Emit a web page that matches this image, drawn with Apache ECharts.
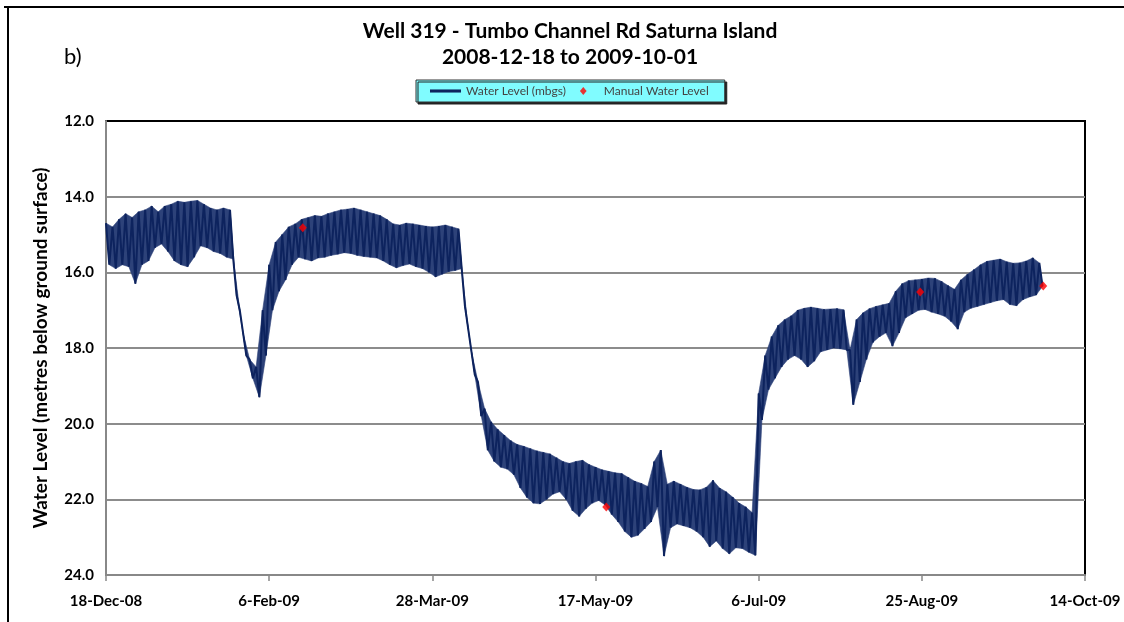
<!DOCTYPE html>
<html>
<head>
<meta charset="utf-8">
<script src="https://cdn.jsdelivr.net/npm/echarts@6/dist/echarts.min.js"></script>
<style>
  html, body { margin: 0; padding: 0; background: #fff; }
  #chart { width: 1124px; height: 622px; }
</style>
</head>
<body>
<div id="chart"></div>
<script>
// days since 18-Dec-2008, sampled every 2 days
const levelDays = [
  0, 2, 4, 6, 8, 10, 12, 14, 16, 18, 20, 22, 24, 26, 28, 30, 32, 34, 36, 38,
  40, 42, 44, 46, 48, 50, 52, 54, 56, 58, 60, 62, 64, 66, 68, 70, 72, 74, 76, 78,
  80, 82, 84, 86, 88, 90, 92, 94, 96, 98, 100, 102, 104, 106, 108, 110, 112, 114, 116, 118,
  120, 122, 124, 126, 128, 130, 132, 134, 136, 138, 140, 142, 144, 146, 148, 150, 152, 154, 156, 158,
  160, 162, 164, 166, 168, 170, 172, 174, 176, 178, 180, 182, 184, 186, 188, 190, 192, 194, 196, 198,
  200, 202, 204, 206, 208, 210, 212, 214, 216, 218, 220, 222, 224, 226, 228, 230, 232, 234, 236, 238,
  240, 242, 244, 246, 248, 250, 252, 254, 256, 258, 260, 262, 264, 266, 268, 270, 272, 274, 276, 278,
  280, 282, 284, 286
];
// shallow end of each daily swing (mbgs)
const levelHigh = [
  14.7, 14.8, 14.6, 14.45, 14.55, 14.4, 14.35, 14.25, 14.4, 14.25, 14.2, 14.12, 14.15, 14.12, 14.1, 14.2, 14.3, 14.35, 14.3, 14.35,
  16.6, 17.6, 18.3, 18.5, 17.0, 15.8, 15.2, 15.0, 14.8, 14.72, 14.6, 14.55, 14.5, 14.52, 14.45, 14.4, 14.35, 14.33, 14.3, 14.35,
  14.4, 14.45, 14.5, 14.6, 14.72, 14.75, 14.7, 14.72, 14.75, 14.78, 14.8, 14.78, 14.75, 14.8, 14.85, 16.9, 18.1, 18.9, 19.6, 19.95,
  20.15, 20.3, 20.45, 20.55, 20.6, 20.66, 20.72, 20.76, 20.8, 20.9, 21.0, 21.05, 21.0, 20.97, 21.08, 21.15, 21.22, 21.26, 21.3, 21.32,
  21.42, 21.52, 21.58, 21.66, 21.0, 20.7, 21.6, 21.52, 21.6, 21.68, 21.74, 21.75, 21.68, 21.5, 21.7, 21.8, 21.94, 22.1, 22.2, 22.35,
  19.2, 18.2, 17.7, 17.4, 17.25, 17.15, 17.0, 16.95, 16.92, 16.95, 16.98, 16.97, 16.96, 16.99, 18.05, 17.25, 17.07, 16.96, 16.9, 16.86,
  16.82, 16.5, 16.3, 16.22, 16.2, 16.18, 16.15, 16.16, 16.24, 16.35, 16.45, 16.2, 16.05, 15.93, 15.8, 15.71, 15.68, 15.65, 15.72, 15.76,
  15.75, 15.7, 15.62, 15.75
];
// deep end of each daily swing (mbgs)
const levelLow = [
  15.8, 15.9, 15.8, 15.85, 16.3, 15.8, 15.7, 15.35, 15.25, 15.45, 15.7, 15.8, 15.85, 15.6, 15.3, 15.35, 15.45, 15.5, 15.6, 15.65,
  17.0, 18.2, 18.8, 19.3, 18.2, 17.0, 16.5, 16.2, 15.8, 15.6, 15.65, 15.7, 15.62, 15.6, 15.55, 15.52, 15.48, 15.5, 15.55, 15.58,
  15.6, 15.62, 15.7, 15.8, 15.88, 15.82, 15.78, 15.85, 15.9, 16.0, 16.12, 16.05, 15.98, 15.95, 15.9, 17.5, 18.7, 19.8, 20.7, 21.0,
  21.15, 21.2, 21.35, 21.7, 21.95, 22.1, 22.12, 22.0, 21.86, 21.8, 22.0, 22.3, 22.45, 22.25, 22.1, 22.03, 22.15, 22.4, 22.6, 22.85,
  23.0, 22.95, 22.78, 22.6, 22.2, 23.5, 22.75, 22.65, 22.7, 22.75, 22.85, 23.0, 23.25, 23.1, 23.3, 23.44, 23.28, 23.3, 23.4, 23.48,
  19.9, 19.1, 18.8, 18.5, 18.3, 18.2, 18.3, 18.5, 18.35, 18.1, 18.05, 18.0, 18.02, 18.05, 19.5, 18.9, 18.3, 17.85, 17.7, 17.6,
  17.95, 17.6, 17.2, 17.1, 17.0, 16.98, 17.05, 17.1, 17.16, 17.3, 17.5, 17.05, 16.95, 16.9, 16.85, 16.8, 16.75, 16.72, 16.85, 16.88,
  16.72, 16.65, 16.6, 16.37
];
const manualDays = [60.3, 153.3, 249.5, 287.2];
const manualLevel = [14.82, 22.2, 16.52, 16.36];
const tickDays = [0, 50, 100, 150, 200, 250, 300];

const months = ['Jan', 'Feb', 'Mar', 'Apr', 'May', 'Jun', 'Jul', 'Aug', 'Sep', 'Oct', 'Nov', 'Dec'];
function dayLabel(d) {
  const dt = new Date(Date.UTC(2008, 11, 18 + Math.round(d)));
  return dt.getUTCDate() + '-' + months[dt.getUTCMonth()] + '-' + String(dt.getUTCFullYear()).slice(2);
}

// daily swing: shallow reading then deep reading one day later
const swing = [];
levelDays.forEach((d, i) => {
  swing.push([d, levelHigh[i]]);
  swing.push([d + 1, levelLow[i]]);
});

const chart = echarts.init(document.getElementById('chart'));
chart.setOption({
  animation: false,
  textStyle: { fontFamily: 'Lato' },
  graphic: [
    { type: 'line', shape: { x1: 4, y1: 7, x2: 1124, y2: 7 }, style: { stroke: '#000', lineWidth: 2 } },
    { type: 'line', shape: { x1: 8, y1: 7, x2: 8, y2: 622 }, style: { stroke: '#000', lineWidth: 2 } },
    {
      type: 'text', x: 570, y: 18,
      style: {
        text: 'Well 319 - Tumbo Channel Rd Saturna Island\n2008-12-18 to 2009-10-01',
        fontSize: 21, fontWeight: 'bold', fontFamily: 'Lato', lineHeight: 26,
        fill: '#000', align: 'center', verticalAlign: 'top'
      }
    },
    { type: 'text', x: 64, y: 46, style: { text: 'b)', fontSize: 22, fontFamily: 'Lato', fill: '#000' } }
  ],
  legend: {
    data: [
      { name: 'Water Level (mbgs)', icon: 'path://M0,0H20V2H0Z' },
      { name: 'Manual Water Level', icon: 'path://M5,0L10,6L5,12L0,6Z' }
    ],
    left: 416, top: 80,
    padding: [5, 16, 5, 14],
    itemWidth: 31, itemHeight: 8, itemGap: 14,
    backgroundColor: '#80fcff',
    borderColor: '#333', borderWidth: 1,
    shadowColor: '#222', shadowOffsetX: 2, shadowOffsetY: 2, shadowBlur: 0,
    textStyle: { fontSize: 12, color: '#444', fontFamily: 'Lato' }
  },
  grid: {
    left: 106, right: 39, top: 121, bottom: 47,
    show: true, borderColor: '#000', borderWidth: 2, backgroundColor: '#fff'
  },
  xAxis: {
    type: 'value', min: 0, max: 300, interval: 50,
    axisLine: { lineStyle: { color: '#888', width: 2 } },
    axisTick: { show: true, length: 6, lineStyle: { color: '#888', width: 1.5 } },
    axisLabel: {
      margin: 19, fontSize: 15, fontWeight: 'bold', color: '#000',
      formatter: v => tickDays.includes(v) ? dayLabel(v) : ''
    },
    splitLine: { show: false }
  },
  yAxis: {
    type: 'value', inverse: true, min: 12, max: 24, interval: 2,
    name: 'Water Level (metres below ground surface)',
    nameLocation: 'middle', nameGap: 56,
    nameTextStyle: { fontSize: 19, fontWeight: 'bold', color: '#000' },
    axisLine: { show: true, lineStyle: { color: '#888', width: 2 } },
    axisTick: { show: false },
    axisLabel: { margin: 12, fontSize: 15, fontWeight: 'bold', color: '#000', formatter: v => v.toFixed(1) },
    splitLine: { show: true, showMinLine: false, lineStyle: { color: '#8c8c8c', width: 2 } }
  },
  series: [
    {
      // filled envelope between consecutive swings
      name: 'band', type: 'custom', silent: true,
      data: levelDays.slice(0, -1).map((d, i) => [d, levelHigh[i]]),
      encode: { x: 0, y: 1 },
      renderItem: (params, api) => {
        const i = params.dataIndex;
        const pts = [
          api.coord([levelDays[i], levelHigh[i]]),
          api.coord([levelDays[i + 1], levelHigh[i + 1]]),
          api.coord([levelDays[i + 1] + 1, levelLow[i + 1]]),
          api.coord([levelDays[i] + 1, levelLow[i]])
        ];
        return {
          type: 'polygon', shape: { points: pts },
          style: { fill: '#2d4279', stroke: '#2d4279', lineWidth: 0.6 }
        };
      }
    },
    {
      name: 'Water Level (mbgs)', type: 'line', data: swing,
      color: '#0d235e', symbol: 'none',
      lineStyle: { color: '#0d235e', width: 2 }
    },
    {
      name: 'Manual Water Level', type: 'scatter',
      data: manualDays.map((d, i) => [d, manualLevel[i]]),
      color: '#ff0000', symbol: 'diamond', symbolSize: [8, 9], z: 5,
      itemStyle: { color: '#ff0000' }
    }
  ]
});
</script>
</body>
</html>
